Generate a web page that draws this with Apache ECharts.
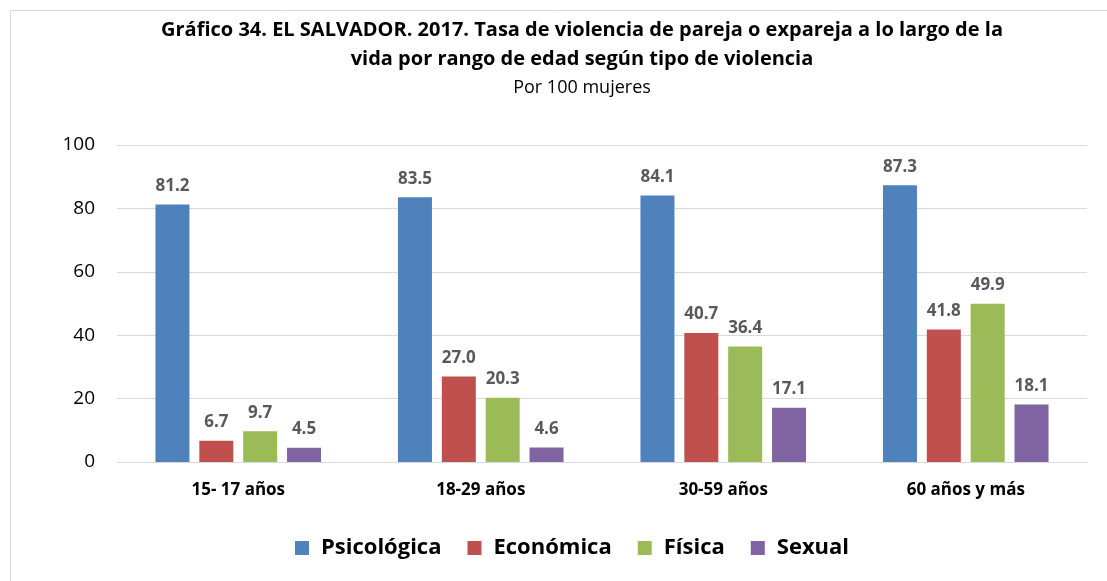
<!DOCTYPE html>
<html>
<head>
<meta charset="utf-8">
<script src="https://cdn.jsdelivr.net/npm/echarts@6/dist/echarts.min.js"></script>
<style>
  html, body { margin: 0; padding: 0; background: #fff; }
  #chart { width: 1107px; height: 581px; }
</style>
</head>
<body>
<div id="chart"></div>
<script>
// datos
const categories = ['15- 17 años', '18-29 años', '30-59 años', '60 años y más'];
const seriesNames = ['Psicológica', 'Económica', 'Física', 'Sexual'];
const psicologica = [81.2, 83.5, 84.1, 87.3];
const economica = [6.7, 27.0, 40.7, 41.8];
const fisica = [9.7, 20.3, 36.4, 49.9];
const sexual = [4.5, 4.6, 17.1, 18.1];
const colors = ['#4F81BD', '#C0504D', '#9BBB59', '#8064A2'];

const font = '"Open Sans", Lato, sans-serif';
const values = [psicologica, economica, fisica, sexual];

const chart = echarts.init(document.getElementById('chart'));

chart.setOption({
    animation: false,
    textStyle: { fontFamily: font },
    graphic: [
        {
            type: 'rect',
            shape: { x: 10.5, y: 10.5, width: 1120, height: 600 },
            style: { fill: 'none', stroke: '#d9d9d9', lineWidth: 1 }
        },
        {
            type: 'text',
            x: 582,
            y: 20,
            style: {
                text: 'Gráfico 34. EL SALVADOR. 2017. Tasa de violencia de pareja o expareja a lo largo de la',
                font: 'bold 20px ' + font,
                fill: '#000',
                align: 'center'
            }
        },
        {
            type: 'text',
            x: 582,
            y: 49,
            style: {
                text: 'vida por rango de edad según tipo de violencia',
                font: 'bold 20px ' + font,
                fill: '#000',
                align: 'center'
            }
        },
        {
            type: 'text',
            x: 582,
            y: 79,
            style: {
                text: 'Por 100 mujeres',
                font: '18px ' + font,
                fill: '#000',
                align: 'center'
            }
        }
    ],
    legend: {
        bottom: 17,
        left: 290,
        itemWidth: 14,
        itemHeight: 14,
        itemGap: 26,
        icon: 'rect',
        textStyle: { fontSize: 22, fontWeight: 'bold', color: '#000', fontFamily: font, padding: [0, 0, 0, 7] },
        data: seriesNames
    },
    grid: { left: 117, right: 20, top: 145, bottom: 119, containLabel: false },
    xAxis: {
        type: 'category',
        data: categories,
        axisLine: { lineStyle: { color: '#d9d9d9', width: 1 } },
        axisTick: { show: false },
        axisLabel: { fontSize: 17, fontWeight: 'bold', color: '#000', margin: 20 }
    },
    yAxis: {
        type: 'value',
        min: 0,
        max: 100,
        interval: 20,
        axisLine: { show: false },
        axisTick: { show: false },
        axisLabel: { fontSize: 19, color: '#000', margin: 22 },
        splitLine: { lineStyle: { color: '#d9d9d9', width: 1 } }
    },
    series: seriesNames.map((name, i) => ({
        name: name,
        type: 'bar',
        data: values[i],
        barWidth: 34,
        barGap: '29%',
        itemStyle: { color: colors[i] },
        label: {
            show: true,
            position: 'top',
            distance: 10,
            formatter: p => p.value.toFixed(1),
            fontSize: 17,
            fontWeight: 'bold',
            color: '#595959'
        }
    }))
});
</script>
</body>
</html>
